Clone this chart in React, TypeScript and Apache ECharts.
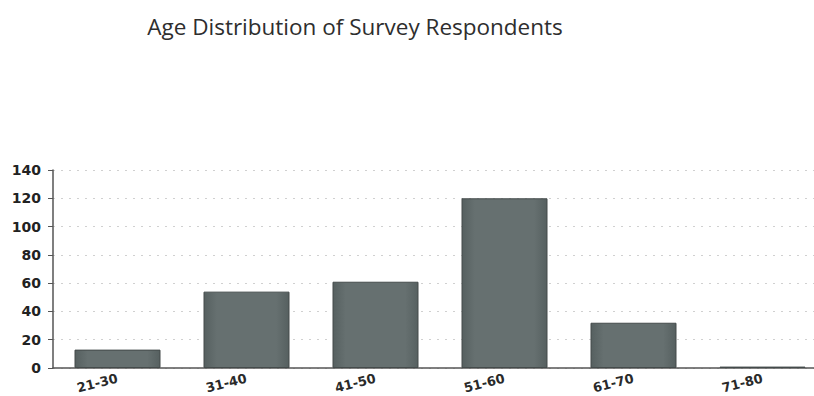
import React, { useEffect, useRef } from "react";
import * as echarts from "echarts";

const categories = ["21-30", "31-40", "41-50", "51-60", "61-70", "71-80"];
const counts = [13, 54, 61, 120, 32, 1];
const titleText = "Age Distribution of Survey Respondents";

export default function App() {
  const ref = useRef<HTMLDivElement>(null);
  useEffect(() => {
    const chart = echarts.init(ref.current!, null, { renderer: "svg" });
    chart.setOption({
      animation: false,
      backgroundColor: "#ffffff",
      title: {
        text: titleText,
        left: 350,
        top: 10,
        textAlign: "center",
        textStyle: { fontFamily: "Open Sans", fontSize: 22.5, fontWeight: "normal", color: "#2e2e2e" },
      },
      grid: { left: 53, top: 170, width: 774, height: 198 },
      xAxis: {
        type: "category",
        data: categories,
        axisLine: { lineStyle: { color: "#555", width: 1.5 } },
        axisTick: { alignWithLabel: true, length: 5, lineStyle: { color: "#555" } },
        axisLabel: {
          rotate: 14,
          margin: 10,
          fontFamily: "DejaVu Sans",
          fontWeight: "bold",
          fontSize: 13,
          color: "#2a2a2a",
        },
      },
      yAxis: {
        type: "value",
        min: 0,
        max: 140,
        interval: 20,
        axisLine: { show: true, lineStyle: { color: "#555", width: 1.5 } },
        axisTick: { show: true, length: 5, lineStyle: { color: "#555" } },
        axisLabel: {
          margin: 12,
          fontFamily: "DejaVu Sans",
          fontWeight: "bold",
          fontSize: 14,
          color: "#222",
        },
        splitLine: { lineStyle: { color: "#d0d0d0", type: [2, 6], width: 1 } },
      },
      series: [
        {
          type: "bar",
          data: counts,
          barWidth: 86,
          itemStyle: {
            color: new echarts.graphic.LinearGradient(0, 0, 1, 0, [
              { offset: 0, color: "#566060" },
              { offset: 0.15, color: "#667070" },
              { offset: 0.85, color: "#667070" },
              { offset: 1, color: "#566060" },
            ]),
            borderColor: "#444b4b",
            borderWidth: 1,
          },
        },
      ],
    });
    return () => chart.dispose();
  }, []);
  return (
    <div style={{ position: "fixed", left: 0, top: 0, width: 814, height: 396, overflow: "hidden", background: "#fff" }}>
      <div ref={ref} style={{ width: 830, height: 396 }} />
    </div>
  );
}
